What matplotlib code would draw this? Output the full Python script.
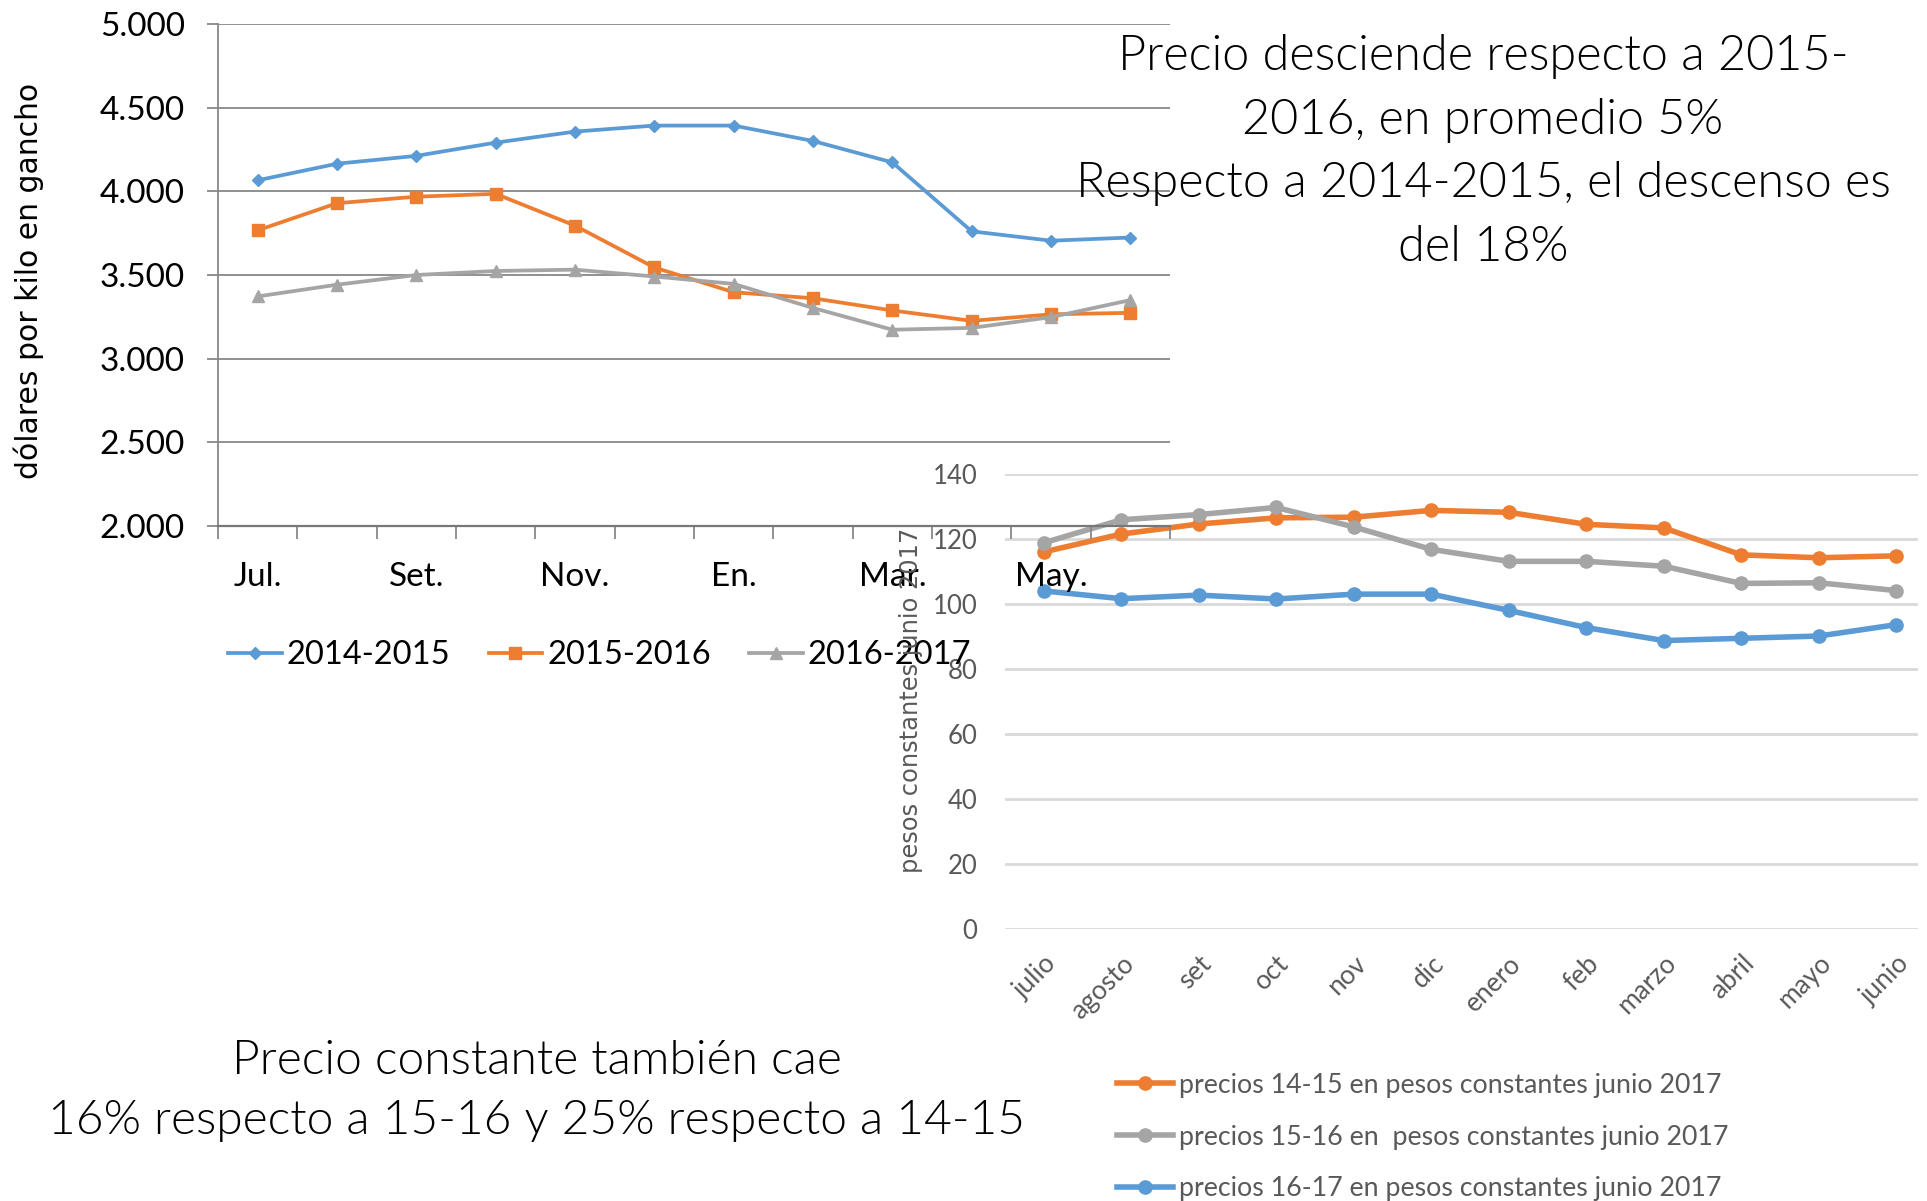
"""
Precio del novillo: dólares por kilo en gancho y precios en pesos constantes.

Salida:
    - out.png
"""

import matplotlib
matplotlib.use("Agg")
import matplotlib.pyplot as plt
from matplotlib.ticker import FuncFormatter, FixedLocator

# ---- datos: gráfico 1 (dólares por kilo en gancho) ----
zafras_usd = ["2014-2015", "2015-2016", "2016-2017"]
usd_1415 = [4066, 4165, 4212, 4291, 4357, 4393, 4393, 4301, 4173, 3761, 3705, 3724]
usd_1516 = [3767, 3929, 3968, 3985, 3795, 3545, 3397, 3361, 3288, 3226, 3265, 3274]
usd_1617 = [3372, 3442, 3500, 3524, 3532, 3491, 3447, 3303, 3173, 3184, 3248, 3350]
meses_cortos = ["Jul.", "", "Set.", "", "Nov.", "", "En.", "", "Mar.", "", "May.", ""]

# ---- datos: gráfico 2 (pesos constantes junio 2017) ----
meses = ["julio", "agosto", "set", "oct", "nov", "dic",
         "enero", "feb", "marzo", "abril", "mayo", "junio"]
pesos_1415 = [116.0, 121.5, 124.6, 126.5, 126.7, 128.8, 128.2, 124.5, 123.4, 115.1, 114.2, 114.8]
pesos_1516 = [118.8, 125.9, 127.5, 129.7, 123.7, 116.8, 113.1, 113.1, 111.6, 106.3, 106.5, 104.1]
pesos_1617 = [104.0, 101.6, 102.7, 101.5, 103.0, 103.0, 98.0, 92.7, 88.7, 89.4, 90.1, 93.6]
series_pesos = ["precios 14-15 en pesos constantes junio 2017",
                "precios 15-16 en  pesos constantes junio 2017",
                "precios 16-17 en pesos constantes junio 2017"]

titulo = ("Precio desciende respecto a 2015-\n2016, en promedio 5%\n"
          "Respecto a 2014-2015, el descenso es\ndel 18%")
nota = "Precio constante también cae\n16% respecto a 15-16 y 25% respecto a 14-15"

AZUL = "#5B9BD5"
NARANJA = "#ED7D31"
GRIS = "#A5A5A5"
FUENTE = "Lato"

W, H = 1927, 1201


def fx(px):
    return px / W


def fy(px):
    return 1 - px / H


def plot_usd(fig):
    ax = fig.add_axes([fx(218), fy(526), fx(1170 - 218), (526 - 24) / H])
    ax.patch.set_alpha(0)
    x = range(len(usd_1415))
    ax.plot(x, usd_1415, color=AZUL, lw=2.7, marker="D", ms=6.5, label=zafras_usd[0], clip_on=False)
    ax.plot(x, usd_1516, color=NARANJA, lw=2.7, marker="s", ms=9, label=zafras_usd[1], clip_on=False)
    ax.plot(x, usd_1617, color=GRIS, lw=2.7, marker="^", ms=9, label=zafras_usd[2], clip_on=False)

    ax.set_xlim(-0.5, 11.5)
    ax.set_ylim(2000, 5000)
    ax.set_yticks(range(2000, 5001, 500))
    ax.yaxis.set_major_formatter(FuncFormatter(lambda v, p: f"{v:,.0f}".replace(",", ".")))
    ax.set_xticks(list(x))
    ax.set_xticklabels(meses_cortos)
    ax.xaxis.set_minor_locator(FixedLocator([i - 0.5 for i in range(13)]))

    ax.grid(axis="y", color="#888888", lw=1.3)
    ax.set_axisbelow(True)
    for s in ["top", "right"]:
        ax.spines[s].set_visible(False)
    ax.spines["left"].set_color("#888888")
    ax.spines["bottom"].set_color("#777777")
    ax.spines["left"].set_linewidth(1.3)
    ax.spines["bottom"].set_linewidth(1.6)

    ax.tick_params(axis="y", length=8, width=1.3, color="#888888", pad=16,
                   labelsize=24, labelcolor="black")
    ax.tick_params(axis="x", which="major", length=0, pad=26, labelsize=24)
    ax.tick_params(axis="x", which="minor", length=9, width=1.3, color="#888888")
    for lab in ax.get_xticklabels() + ax.get_yticklabels():
        lab.set_family(FUENTE)

    ax.legend(loc="center left", bbox_to_anchor=(fx(228), fy(655)), bbox_transform=fig.transFigure,
              ncol=3, frameon=False, borderpad=0, borderaxespad=0,
              handlelength=1.65, handletextpad=0.15, columnspacing=1.17,
              prop={"family": FUENTE, "size": 23.5})

    fig.text(fx(29), fy(281), "dólares por kilo en gancho", rotation=90,
             ha="center", va="center", fontsize=21.5, family="DejaVu Sans")


def plot_pesos(fig):
    ax = fig.add_axes([fx(1005), fy(928.6), fx(1918 - 1005), (928.6 - 474) / H])
    ax.patch.set_alpha(0)
    x = range(len(meses))
    ax.plot(x, pesos_1415, color=NARANJA, lw=4, marker="o", ms=9.5, label=series_pesos[0], clip_on=False)
    ax.plot(x, pesos_1516, color=GRIS, lw=4, marker="o", ms=9.5, label=series_pesos[1], clip_on=False)
    ax.plot(x, pesos_1617, color=AZUL, lw=4, marker="o", ms=9.5, label=series_pesos[2], clip_on=False)

    ax.set_xlim(-0.5, 11.28)
    ax.set_ylim(0, 140)
    ax.set_yticks(range(0, 141, 20))
    ax.set_xticks(list(x))
    ax.set_xticklabels(meses, rotation=45, ha="right", va="top", rotation_mode="anchor")

    ax.grid(axis="y", color="#D9D9D9", lw=2)
    ax.set_axisbelow(True)
    for s in ax.spines.values():
        s.set_visible(False)
    ax.tick_params(axis="y", length=0, pad=20, labelsize=18.5, labelcolor="#595959")
    ax.tick_params(axis="x", length=0, pad=16, labelsize=19, labelcolor="#595959")
    for lab in ax.get_xticklabels() + ax.get_yticklabels():
        lab.set_family(FUENTE)

    ax.legend(loc="center left", bbox_to_anchor=(fx(1117), fy(1137)), bbox_transform=fig.transFigure,
              ncol=1, frameon=False, borderpad=0, borderaxespad=0,
              handlelength=2.1, handletextpad=0.2, labelspacing=1.0,
              labelcolor="#595959", prop={"family": FUENTE, "size": 19.3})

    fig.text(fx(911), fy(700), "pesos constantes junio 2017", rotation=90,
             ha="center", va="center", fontsize=17.4, color="#595959", family="DejaVu Sans")


def main():
    fig = plt.figure(figsize=(W / 100, H / 100), dpi=100)

    # gráfico 2 primero: queda detrás del gráfico 1
    plot_pesos(fig)
    plot_usd(fig)

    fig.text(fx(1483), fy(152), titulo, ha="center", va="center", multialignment="center",
             fontsize=35, family=FUENTE, fontweight=300, linespacing=1.52)
    fig.text(fx(537), fy(1091), nota, ha="center", va="center", multialignment="center",
             fontsize=34.6, family=FUENTE, fontweight=300, linespacing=1.55)

    fig.savefig("out.png", dpi=100)
    plt.close(fig)


if __name__ == "__main__":
    main()
